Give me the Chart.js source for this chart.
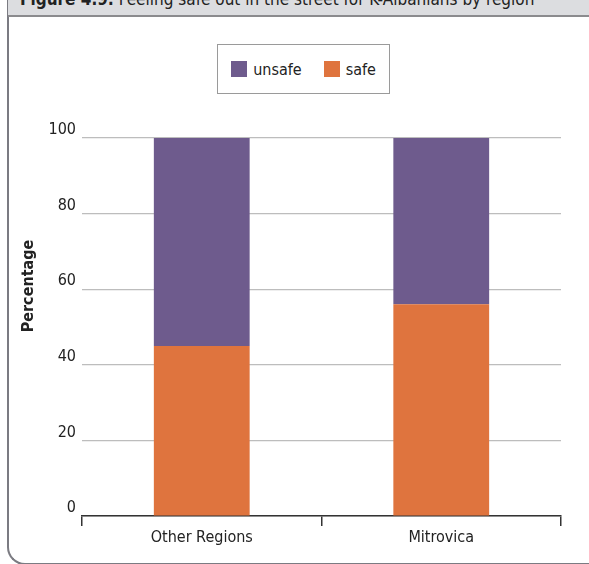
<!DOCTYPE html>
<html>
<head>
<meta charset="utf-8">
<script src="https://cdn.jsdelivr.net/npm/chart.js@4"></script>
<style>
  html, body { margin: 0; padding: 0; background: #fff; }
  body { width: 589px; height: 564px; position: relative; overflow: hidden;
         font-family: "Liberation Sans Narrow", "DejaVu Sans Condensed", sans-serif; }
  .frame { position: absolute; left: 7px; top: -20px; width: 600px; height: 585px;
           border-left: 2px solid #7b7b82; border-bottom: 2px solid #7b7b82;
           border-bottom-left-radius: 18px; box-sizing: border-box; }
  .titlebar { position: absolute; left: 8px; top: 0; width: 600px; height: 15px;
              background: #dcdde0; border-bottom: 2px solid #8b8b8e; overflow: hidden; }
  .titlebar span { position: absolute; left: 12px; top: -11px; font-size: 17px;
                   color: #222; white-space: nowrap; }
  .legend { position: absolute; left: 217px; top: 44px; width: 173px; height: 50px;
            border: 1.5px solid #9a9a9a; box-sizing: border-box;
            display: flex; align-items: center; justify-content: center; gap: 22px;
            font-size: 16px; color: #222; }
  .legend div { display: flex; align-items: center; }
  .legend i { display: inline-block; width: 16px; height: 16px; margin-right: 6px; }
  canvas { position: absolute; left: 0; top: 0; }
</style>
</head>
<body>
<div class="frame"></div>
<div class="titlebar"><span><b>Figure 4.9:</b> Feeling safe out in the street for K-Albanians by region</span></div>
<div class="legend" id="legend"></div>
<canvas id="chart" width="589" height="564"></canvas>
<script>
const categories = ['Other Regions', 'Mitrovica'];
const safe = [45, 56];
const unsafe = [55, 44];
const yTicks = [0, 20, 40, 60, 80, 100];

const purple = '#6e5b8d';
const orange = '#df743e';
const fontFamily = '"Liberation Sans Narrow", "DejaVu Sans Condensed", sans-serif';

// legend shows unsafe first, like the original
const legendEl = document.getElementById('legend');
[['unsafe', purple], ['safe', orange]].forEach(([label, color]) => {
  const item = document.createElement('div');
  item.innerHTML = '<i style="background:' + color + '"></i>' + label;
  legendEl.appendChild(item);
});

// y axis title sits a bit higher than the centre of the axis
const yTitle = {
  id: 'yTitle',
  afterDraw(chart) {
    const ctx = chart.ctx;
    ctx.save();
    ctx.translate(29, 286);
    ctx.rotate(-Math.PI / 2);
    ctx.font = 'bold 16px ' + fontFamily;
    ctx.fillStyle = '#222';
    ctx.textAlign = 'center';
    ctx.textBaseline = 'middle';
    ctx.fillText('Percentage', 0, 0);
    ctx.restore();
  }
};

new Chart(document.getElementById('chart'), {
  type: 'bar',
  data: {
    labels: categories,
    datasets: [
      { label: 'safe', data: safe, backgroundColor: orange },
      { label: 'unsafe', data: unsafe, backgroundColor: purple },
    ]
  },
  options: {
    responsive: false,
    animation: false,
    layout: { padding: { top: 138, right: 28, left: 0, bottom: 0 } },
    categoryPercentage: 1,
    barPercentage: 0.4,
    plugins: { legend: { display: false }, tooltip: { enabled: false } },
    scales: {
      x: {
        stacked: true,
        afterFit: s => { s.height = 48; },
        border: { color: '#333', width: 1.5 },
        grid: { drawOnChartArea: false, color: '#333', tickLength: 10, lineWidth: 1.5, offset: true },
        ticks: { color: '#222', font: { family: fontFamily, size: 16 }, padding: 2 }
      },
      y: {
        stacked: true,
        min: 0,
        max: 100,
        afterFit: s => { s.width = 82; },
        afterBuildTicks: s => { s.ticks = yTicks.map(v => ({ value: v })); },
        border: { display: false },
        grid: { color: '#bdbdbd', lineWidth: 1.2, drawTicks: false },
        ticks: { color: '#222', font: { family: fontFamily, size: 16 }, padding: 6, labelOffset: -8 }
      }
    }
  },
  plugins: [yTitle]
});
</script>
</body>
</html>
